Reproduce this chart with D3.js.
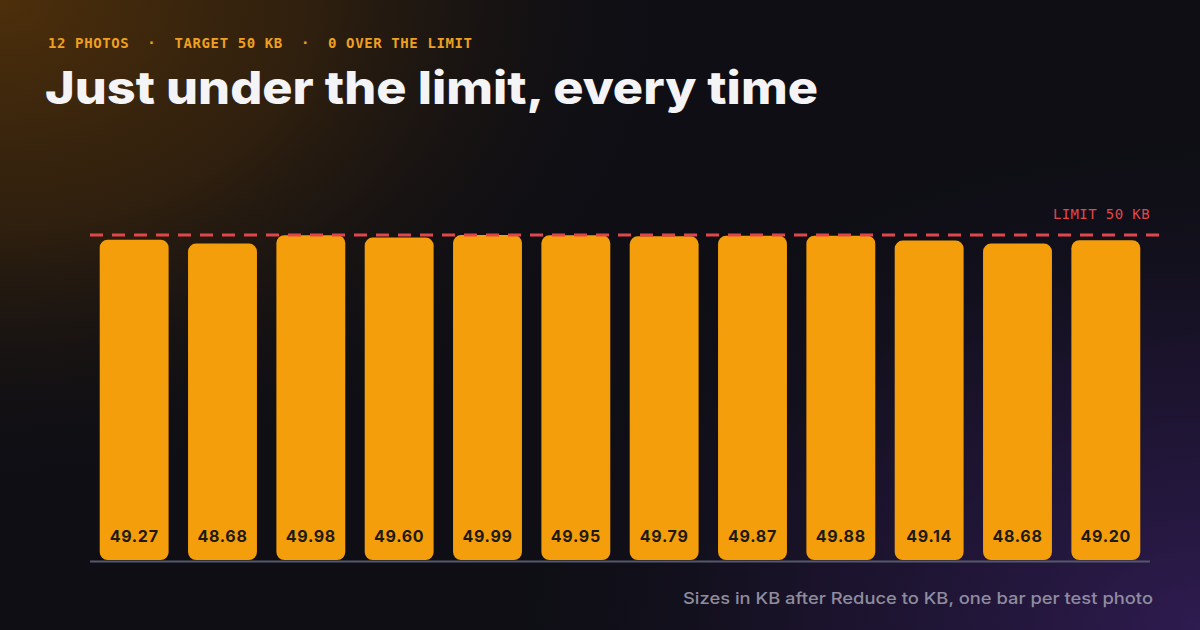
<!DOCTYPE html>
<html><head><meta charset="utf-8">
<script src="https://cdn.jsdelivr.net/npm/d3@7"></script>
<style>
html,body{margin:0;padding:0;background:#0e0e14;}
svg{display:block;}
</style></head>
<body>
<svg id="chart" width="1200" height="630"></svg>
<script>
const photos = ["1","2","3","4","5","6","7","8","9","10","11","12"];
const sizesKB = [49.27, 48.68, 49.98, 49.60, 49.99, 49.95, 49.79, 49.87, 49.88, 49.14, 48.68, 49.20];
const limitKB = 50;
const kicker = "12 PHOTOS  \u00b7  TARGET 50 KB  \u00b7  0 OVER THE LIMIT";
const title = "Just under the limit, every time";
const limitLabel = "LIMIT 50 KB";
const footnote = "Sizes in KB after Reduce to KB, one bar per test photo";

const W = 1200, H = 630;
const svg = d3.select("#chart");
const defs = svg.append("defs");

const g1 = defs.append("radialGradient").attr("id","glowTL")
  .attr("cx",0).attr("cy",0).attr("r",1).attr("gradientUnits","objectBoundingBox")
  .attr("gradientTransform","scale(0.58,0.8)");
g1.append("stop").attr("offset","0%").attr("stop-color","#4d2f0b").attr("stop-opacity",1);
g1.append("stop").attr("offset","45%").attr("stop-color","#3a250c").attr("stop-opacity",0.75);
g1.append("stop").attr("offset","100%").attr("stop-color","#0e0e14").attr("stop-opacity",0);

const g2 = defs.append("radialGradient").attr("id","glowBR")
  .attr("cx",1).attr("cy",1).attr("r",1).attr("gradientUnits","objectBoundingBox")
  .attr("gradientTransform","translate(1,1) scale(0.62,0.85) translate(-1,-1)");
g2.append("stop").attr("offset","0%").attr("stop-color","#2e1b50").attr("stop-opacity",1);
g2.append("stop").attr("offset","50%").attr("stop-color","#22163a").attr("stop-opacity",0.65);
g2.append("stop").attr("offset","100%").attr("stop-color","#0e0e14").attr("stop-opacity",0);

svg.append("rect").attr("width",W).attr("height",H).attr("fill","#0e0e14");
svg.append("rect").attr("width",W).attr("height",H).attr("fill","url(#glowTL)");
svg.append("rect").attr("width",W).attr("height",H).attr("fill","url(#glowBR)");

const mono = "'DejaVu Sans Mono', 'Liberation Mono', monospace";
const sans = "Inter, 'Noto Sans', sans-serif";

svg.append("text").attr("x",48).attr("y",48)
  .attr("font-family",mono).attr("font-size",14).attr("font-weight",700)
  .attr("fill","#f0a020").attr("xml:space","preserve")
  .attr("textLength",424).attr("lengthAdjust","spacing")
  .text(kicker);

svg.append("text").attr("x",45).attr("y",104)
  .attr("font-family",sans).attr("font-size",45).attr("font-weight",800)
  .attr("fill","#f4f4f6")
  .attr("textLength",773).attr("lengthAdjust","spacingAndGlyphs")
  .text(title);

const x = d3.scaleBand().domain(photos).range([90,1150]).paddingInner(0.22).paddingOuter(0.11);
const y = d3.scaleLinear().domain([0,limitKB]).range([560,235]);

svg.append("g").selectAll("rect").data(sizesKB).join("rect")
  .attr("x",(d,i)=>x(photos[i]))
  .attr("y",d=>y(d))
  .attr("width",x.bandwidth())
  .attr("height",d=>y(0)-y(d))
  .attr("rx",8).attr("ry",8)
  .attr("fill","#f59e0b");

svg.append("line").attr("x1",90).attr("x2",1150).attr("y1",y(0)+1.5).attr("y2",y(0)+1.5)
  .attr("stroke","#55586a").attr("stroke-width",2);

svg.append("g").selectAll("text").data(sizesKB).join("text")
  .attr("x",(d,i)=>x(photos[i])+x.bandwidth()/2)
  .attr("y",y(0)-18)
  .attr("text-anchor","middle")
  .attr("font-family",sans).attr("font-size",16).attr("font-weight",700)
  .attr("letter-spacing",0.7)
  .attr("fill","#1d1a14")
  .text(d=>d.toFixed(2));

svg.append("line").attr("x1",90).attr("x2",1160).attr("y1",y(limitKB)).attr("y2",y(limitKB))
  .attr("stroke","#e0474c").attr("stroke-width",3).attr("stroke-dasharray","13 9");

svg.append("text").attr("x",1150).attr("y",219).attr("text-anchor","end")
  .attr("font-family",mono).attr("font-size",14)
  .attr("fill","#e0474c").attr("letter-spacing",0.4)
  .text(limitLabel);

svg.append("text").attr("x",683).attr("y",604)
  .attr("font-family",sans).attr("font-size",16.5).attr("font-weight",500)
  .attr("fill","#8f8c9e")
  .attr("textLength",470).attr("lengthAdjust","spacingAndGlyphs")
  .text(footnote);
</script>
</body></html>
